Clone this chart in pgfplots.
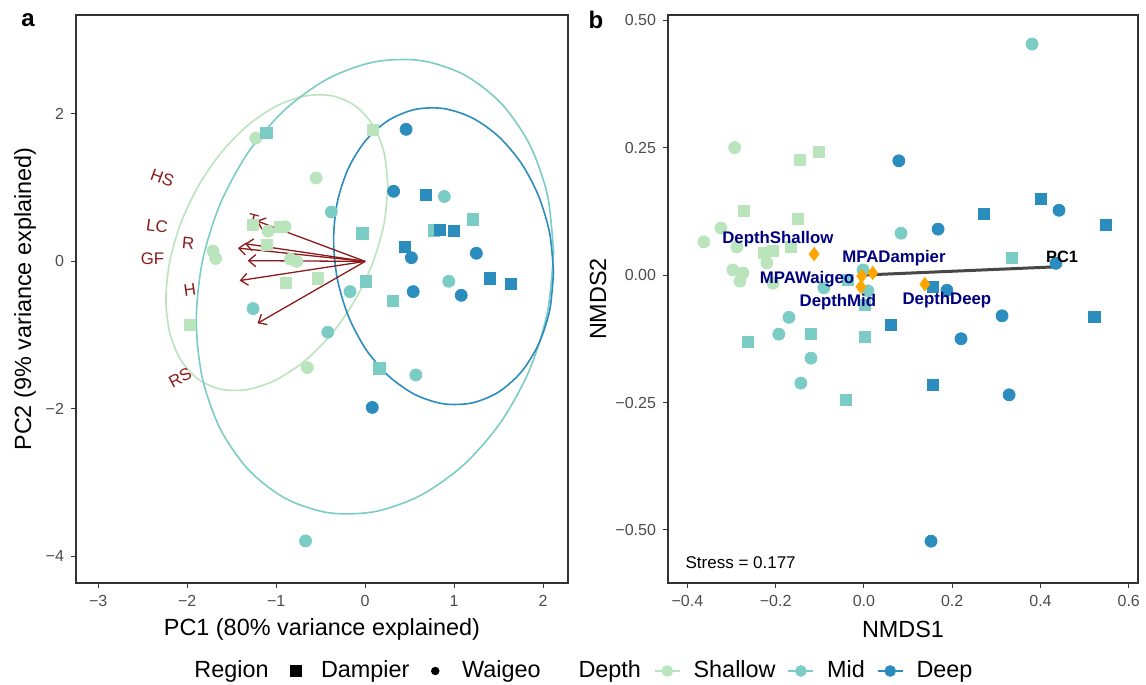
\documentclass[border=0pt]{standalone}
\usepackage{fontspec}
\setmainfont{Liberation Sans}
\usepackage{pgfplots}
\pgfplotsset{compat=1.18}
\usetikzlibrary{arrows.meta}

\definecolor{shallow}{HTML}{BAE4BC}
\definecolor{mid}{HTML}{7BCCC4}
\definecolor{deep}{HTML}{2B8CBE}
\definecolor{vec}{HTML}{8B1A1A}
\definecolor{lab}{HTML}{000080}
\definecolor{frm}{HTML}{333333}
\definecolor{dia}{HTML}{FFA500}

\pgfplotsset{
  ggbox/.style={
    scale only axis, height=284pt,
    axis line style={frm, line width=0.6pt},
    tick style={frm, line width=0.5pt},
    tick align=outside, major tick length=2.5pt,
    xtick pos=bottom, ytick pos=left,
    tick label style={font=\fontsize{8}{9}\selectfont, text=black!70},
    label style={font=\fontsize{11.7}{13}\selectfont},
    /pgf/number format/assume math mode=true,
    xlabel style={at={(axis description cs:0.5,-0.081)}, anchor=center},
  },
  sq/.style={only marks, mark=square*, mark size=2.8pt},
  ci/.style={only marks, mark=*, mark size=3pt},
  ell/.style={smooth, line width=0.8pt, no marks},
  arr/.style={vec, line width=0.65pt, -{Straight Barb[length=3.5pt,width=6pt]}},
  lkey/.style={mark=*, mark size=2.5pt, line width=0.8pt,
    legend image code/.code={\draw[mark repeat=2,mark phase=2] plot coordinates {(0cm,0cm) (0.22cm,0cm) (0.44cm,0cm)};}},
}

\begin{document}
\begin{tikzpicture}
\useasboundingbox (0,0) rectangle (573pt,342.5pt);

% ---- panel a: PCA biplot ----
\begin{axis}[ggbox,
    at={(38pt,51pt)}, anchor=south west, width=246pt,
    xmin=-3.25, xmax=2.28, ymin=-4.36, ymax=3.34,
    xtick={-3,-2,-1,0,1,2}, xticklabels={−3,−2,−1,0,1,2},
    ytick={-4,-2,0,2}, yticklabels={−4,−2,0,2},
    xlabel={PC1 (80\% variance explained)},
    ylabel={PC2 (9\% variance explained)},
    ylabel style={at={(axis description cs:-0.1037,0.5)}, anchor=center},
]
% 95% ellipses by depth
\addplot[ell, shallow] coordinates {
 (0.255,1.019) (0.213,1.473) (0.088,1.844) (-0.110,2.107) (-0.369,2.243) (-0.669,2.244)
 (-0.992,2.109) (-1.315,1.848) (-1.616,1.478) (-1.874,1.025) (-2.072,0.519) (-2.197,-0.005)
 (-2.239,-0.511) (-2.197,-0.965) (-2.072,-1.336) (-1.874,-1.599) (-1.616,-1.735) (-1.315,-1.736)
 (-0.992,-1.601) (-0.669,-1.340) (-0.369,-0.970) (-0.110,-0.517) (0.088,-0.011) (0.213,0.513)
 (0.255,1.019)};
\addplot[ell, mid] coordinates {
 (2.118,0.121) (2.050,0.894) (1.849,1.583) (1.530,2.141) (1.114,2.529) (0.630,2.722)
 (0.110,2.706) (-0.410,2.482) (-0.894,2.065) (-1.310,1.485) (-1.629,0.780) (-1.830,-0.002)
 (-1.898,-0.807) (-1.830,-1.580) (-1.629,-2.269) (-1.310,-2.827) (-0.894,-3.215) (-0.410,-3.408)
 (0.110,-3.392) (0.630,-3.168) (1.114,-2.751) (1.530,-2.171) (1.849,-1.466) (2.050,-0.684)
 (2.118,0.121)};
\addplot[ell, deep] coordinates {
 (2.117,-0.148) (2.075,0.377) (1.951,0.882) (1.755,1.331) (1.499,1.694) (1.201,1.947)
 (0.881,2.072) (0.561,2.060) (0.263,1.913) (0.007,1.640) (-0.189,1.260) (-0.313,0.800)
 (-0.355,0.289) (-0.313,-0.236) (-0.189,-0.741) (0.007,-1.190) (0.263,-1.553) (0.561,-1.806)
 (0.881,-1.931) (1.201,-1.919) (1.499,-1.772) (1.755,-1.499) (1.951,-1.119) (2.075,-0.658)
 (2.117,-0.148)};
% loading vectors
\addplot[arr] coordinates {(0,0) (-1.22,0.55)};
\addplot[arr] coordinates {(0,0) (-1.35,0.24)};
\addplot[arr] coordinates {(0,0) (-1.43,0.18)};
\addplot[arr] coordinates {(0,0) (-1.32,0.01)};
\addplot[arr] coordinates {(0,0) (-1.41,-0.26)};
\addplot[arr] coordinates {(0,0) (-1.21,-0.84)};
\begin{scope}[every node/.style={text=vec, font=\fontsize{8.4}{9}\selectfont}]
\node[rotate=-20] at (axis cs:-2.28,1.13) {HS};
\node[rotate=-8] at (axis cs:-2.34,0.48) {LC};
\node[rotate=-5] at (axis cs:-1.99,0.24) {R};
\node at (axis cs:-2.39,0.04) {GF};
\node[rotate=8] at (axis cs:-1.97,-0.39) {H};
\node[rotate=28] at (axis cs:-2.08,-1.58) {RS};
\node[rotate=-15] at (axis cs:-1.26,0.56) {T};
\end{scope}
% samples
\addplot[sq, shallow] coordinates {(0.09,1.78) (-1.26,0.50) (-0.96,0.47) (-1.10,0.22) (-0.89,-0.29) (-0.53,-0.23) (-1.97,-0.86)};
\addplot[ci, shallow] coordinates {(-1.23,1.67) (-0.55,1.13) (-1.09,0.41) (-0.90,0.47) (-1.71,0.14) (-1.68,0.04) (-0.84,0.03) (-0.77,0.0) (-0.65,-1.44)};
\addplot[sq, mid] coordinates {(-1.11,1.74) (-0.03,0.38) (0.01,-0.27) (0.16,-1.45) (0.31,-0.54) (0.77,0.42) (1.21,0.57)};
\addplot[ci, mid] coordinates {(-0.38,0.67) (-0.17,-0.41) (-1.26,-0.64) (-0.42,-0.96) (0.89,0.88) (0.94,-0.27) (0.57,-1.54) (-0.67,-3.79)};
\addplot[sq, deep] coordinates {(0.68,0.90) (0.84,0.43) (1.00,0.41) (0.45,0.20) (1.40,-0.23) (1.64,-0.30)};
\addplot[ci, deep] coordinates {(0.46,1.79) (0.32,0.95) (0.52,0.05) (1.25,0.11) (0.54,-0.41) (1.08,-0.46) (0.08,-1.98)};
\end{axis}

% ---- panel b: NMDS ----
\begin{axis}[ggbox,
    at={(334pt,51pt)}, anchor=south west, width=235pt,
    xmin=-0.444, xmax=0.621, ymin=-0.604, ymax=0.51,
    xtick={-0.4,-0.2,0,0.2,0.4,0.6}, xticklabels={−0.4,−0.2,0.0,0.2,0.4,0.6},
    ytick={-0.5,-0.25,0,0.25,0.5}, yticklabels={−0.50,−0.25,0.00,0.25,0.50},
    xlabel={NMDS1}, ylabel={NMDS2},
    ylabel style={at={(axis description cs:-0.149,0.5)}, anchor=center},
]
\addplot[ci, shallow] coordinates {(-0.293,0.25) (-0.324,0.092) (-0.363,0.065) (-0.288,0.055) (-0.22,0.024) (-0.297,0.01) (-0.274,0.004) (-0.281,-0.012) (-0.206,-0.016)};
\addplot[sq, shallow] coordinates {(-0.145,0.225) (-0.102,0.241) (-0.272,0.125) (-0.15,0.11) (-0.227,0.043) (-0.206,0.047) (-0.166,0.055)};
\addplot[ci, mid] coordinates {(0.381,0.453) (0.084,0.082) (-0.002,0.01) (-0.091,-0.025) (0.009,-0.031) (-0.17,-0.083) (-0.193,-0.116) (-0.12,-0.163) (-0.143,-0.212)};
\addplot[sq, mid] coordinates {(-0.263,-0.131) (-0.12,-0.116) (0.002,-0.122) (-0.041,-0.245) (-0.036,-0.01) (0.002,-0.059) (0.336,0.033)};
\addplot[ci, deep] coordinates {(0.079,0.224) (0.168,0.09) (0.442,0.127) (0.435,0.023) (0.188,-0.03) (0.313,-0.08) (0.22,-0.125) (0.329,-0.235) (0.152,-0.522)};
\addplot[sq, deep] coordinates {(0.401,0.149) (0.272,0.12) (0.549,0.098) (0.157,-0.024) (0.522,-0.082) (0.061,-0.098) (0.157,-0.216)};
% fitted vector and factor centroids
\addplot[black!72, line width=1.5pt] coordinates {(0,0) (0.433,0.016)};
\addplot[only marks, mark=diamond*, mark size=3.3pt, dia] coordinates {(-0.113,0.041) (-0.005,-0.002) (0.02,0.004) (-0.007,-0.023) (0.138,-0.018)};
\end{axis}

% labels of panel b, drawn above the marks (same axis frame)
\begin{axis}[ggbox, hide axis,
    at={(334pt,51pt)}, anchor=south west, width=235pt,
    xmin=-0.444, xmax=0.621, ymin=-0.604, ymax=0.51,
]
\begin{scope}[every node/.style={text=lab, font=\fontsize{8.4}{9}\selectfont\bfseries}]
\node at (axis cs:-0.195,0.071) {DepthShallow};
\node at (axis cs:0.068,0.033) {MPADampier};
\node at (axis cs:-0.129,-0.008) {MPAWaigeo};
\node at (axis cs:-0.059,-0.053) {DepthMid};
\node at (axis cs:0.188,-0.049) {DepthDeep};
\end{scope}
\node[font=\fontsize{8.2}{9}\selectfont\bfseries] at (axis cs:0.449,0.035) {PC1};
\node[anchor=west, font=\fontsize{8.5}{9}\selectfont, inner sep=0pt] at (axis cs:-0.405,-0.565) {Stress = 0.177};
\end{axis}

% ---- shared legend ----
\begin{axis}[hide axis, scale only axis, width=10pt, height=10pt,
    at={(291.75pt,7pt)}, anchor=center,
    xmin=0, xmax=1, ymin=0, ymax=1,
    legend columns=-1,
    legend style={at={(0.5,0.5)}, anchor=center, draw=none, fill=none,
      font=\fontsize{11.7}{13}\selectfont,
      /tikz/column 1/.style={column sep=0pt},
      /tikz/column 2/.style={column sep=9pt},
      /tikz/column 3/.style={column sep=8pt},
      /tikz/column 4/.style={column sep=9pt},
      /tikz/column 5/.style={column sep=9.5pt},
      /tikz/column 6/.style={column sep=9pt},
      /tikz/column 7/.style={column sep=6pt},
      /tikz/column 8/.style={column sep=4.5pt},
      /tikz/column 9/.style={column sep=4.5pt},
      /tikz/column 10/.style={column sep=4pt},
      /tikz/column 11/.style={column sep=4.5pt},
      /tikz/column 12/.style={column sep=4pt},
      /tikz/column 13/.style={column sep=4.5pt}},
]
\addlegendimage{empty legend}\addlegendentry{Region}
\addlegendimage{only marks, mark=square*, black, mark size=2.6pt}\addlegendentry{Dampier}
\addlegendimage{only marks, mark=*, black, mark size=1.9pt}\addlegendentry{Waigeo}
\addlegendimage{empty legend}\addlegendentry{Depth}
\addlegendimage{lkey, shallow}\addlegendentry{Shallow}
\addlegendimage{lkey, mid}\addlegendentry{Mid}
\addlegendimage{lkey, deep}\addlegendentry{Deep}
\end{axis}

\node[font=\fontsize{12}{13}\selectfont\bfseries] at (14pt,332.5pt) {a};
\node[font=\fontsize{12}{13}\selectfont\bfseries] at (298pt,332.5pt) {b};
\end{tikzpicture}
\end{document}
